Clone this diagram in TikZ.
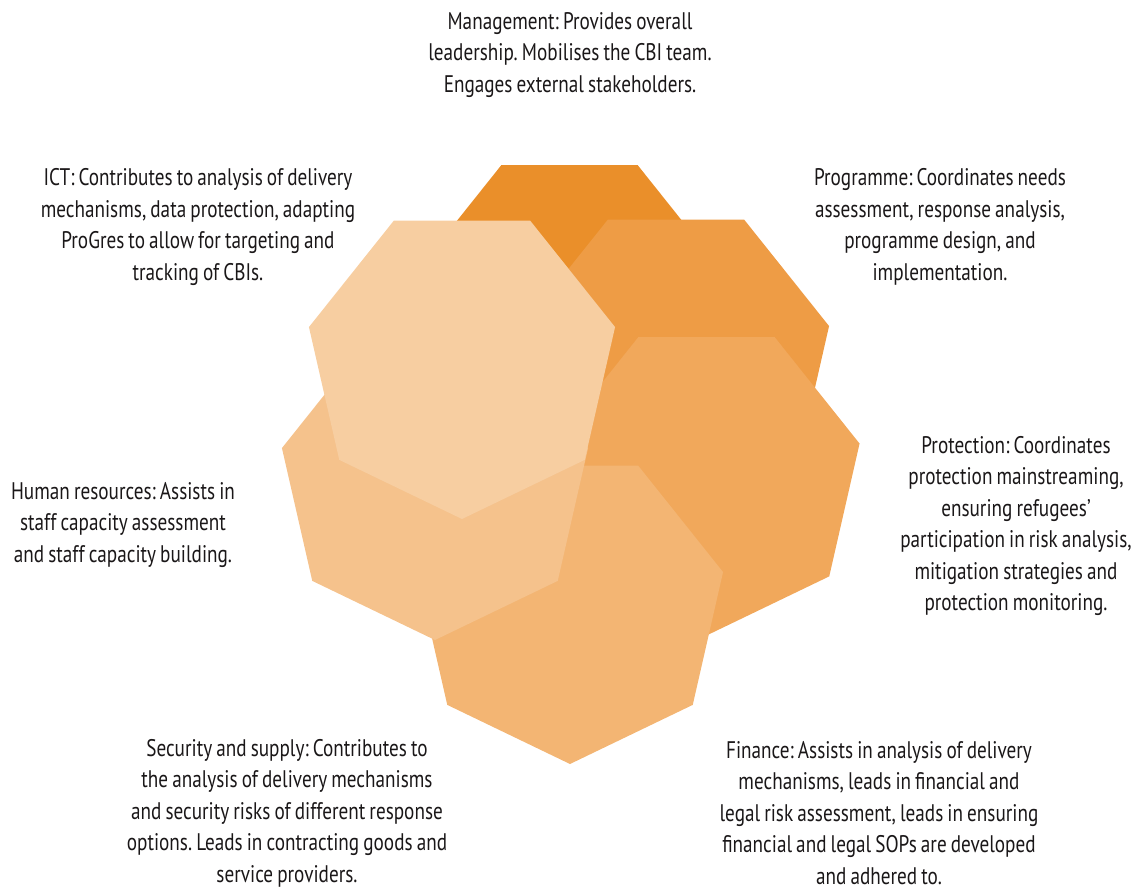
\documentclass[tikz,border=0pt]{standalone}
\usepackage{fontspec}
\setmainfont[FakeStretch=0.8, WordSpace=0.8]{PT Sans}
\usepackage{tikz}
\usetikzlibrary{shapes.geometric, positioning}
\frenchspacing

\definecolor{mgmtcol}{HTML}{EA8F2A}
\definecolor{progcol}{HTML}{EE9C45}
\definecolor{protcol}{HTML}{F1A85B}
\definecolor{fincol}{HTML}{F3B573}
\definecolor{hrcol}{HTML}{F5C28C}
\definecolor{ictcol}{HTML}{F7CEA1}
\definecolor{txtcol}{HTML}{1A1718}

\begin{document}
\begin{tikzpicture}[x=1pt, y=-1pt]
    \tikzstyle{hept} = [regular polygon, regular polygon sides=7, shape border rotate=180, minimum size=314pt, inner sep=0pt, outer sep=0pt]
    \tikzstyle{role} = [align=center, text=txtcol, font=\fontsize{24}{31.5}\selectfont, inner sep=0pt]

    \useasboundingbox (0,0) rectangle (1141,889);

    % heptagons, back to front
    \node[hept, fill=mgmtcol] (mgmt) at (569.5,306.5) {};
    \node[hept, fill=progcol] (prog) at (676,361) {};
    \node[hept, fill=protcol] (prot) at (706.5,478.5) {};
    \node[hept, fill=fincol] (fin) at (570,607) {};
    \node[hept, fill=hrcol] (hr) at (435,483) {};
    \node[hept, fill=ictcol] (ict) at (462,362) {};

    % labels
    \node[role] (mgmttxt) at (570,55) {Management: Provides overall\\leadership. Mobilises the CBI team.\\Engages external stakeholders.};
    \node[role] (icttxt) at (198,227) {ICT: Contributes to analysis of delivery\\mechanisms, data protection, adapting\\ProGres to allow for targeting and\\tracking of CBIs.};
    \node[role] (progtxt) at (940,227) {Programme: Coordinates needs\\assessment, response analysis,\\programme design, and\\implementation.};
    \node[role] (prottxt) at (1016,526) {Protection: Coordinates\\protection mainstreaming,\\ensuring refugees’\\participation in risk analysis,\\mitigation strategies and\\protection monitoring.};
    \node[role] (hrtxt) at (123,525) {Human resources: Assists in\\staff capacity assessment\\and staff capacity building.};
    \node[role] (sectxt) at (287,813) {Security and supply: Contributes to\\the analysis of delivery mechanisms\\and security risks of different response\\options. Leads in contracting goods and\\service providers.};
    \node[role] (fintxt) at (879,813) {Finance: Assists in analysis of delivery\\mechanisms, leads in financial and\\legal risk assessment, leads in ensuring\\financial and legal SOPs are developed\\and adhered to.};
\end{tikzpicture}
\end{document}
